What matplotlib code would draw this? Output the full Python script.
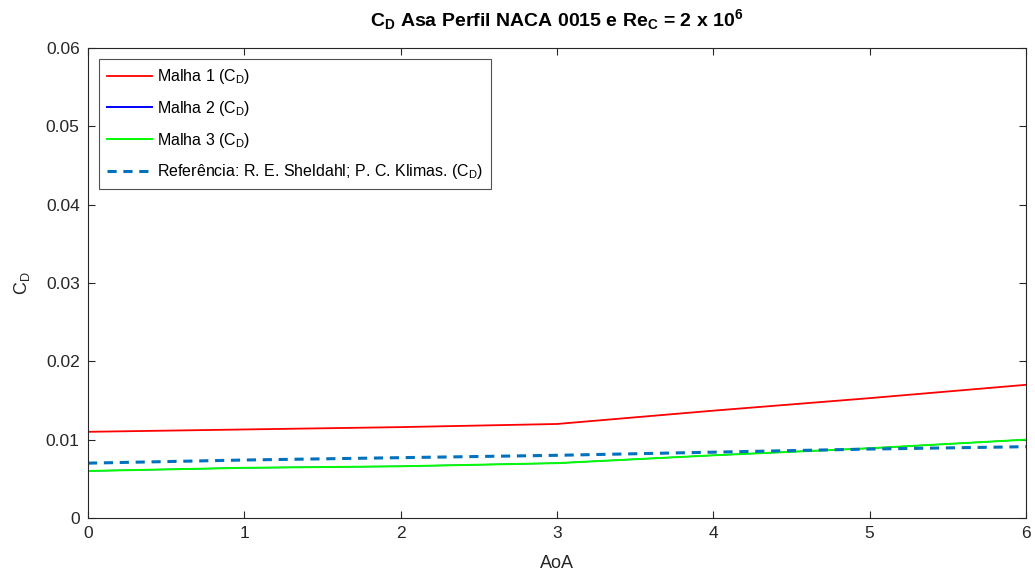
import numpy as np
import matplotlib.pyplot as plt

plt.rcParams['font.family'] = ['Liberation Sans', 'DejaVu Sans']
plt.rcParams['mathtext.default'] = 'regular'

aoa = [0, 1, 2, 3, 4, 5, 6]
cd_malha1 = [0.0110, 0.0113, 0.0116, 0.0120, 0.0137, 0.0153, 0.0170]
cd_malha2 = [0.0060, 0.0064, 0.0066, 0.0070, 0.0080, 0.0089, 0.0100]
cd_malha3 = [0.0060, 0.0064, 0.0066, 0.0070, 0.0080, 0.0089, 0.0100]
cd_ref = [0.0070, 0.0074, 0.0077, 0.0080, 0.0084, 0.0088, 0.0091]

fig = plt.figure(figsize=(10.35, 5.74), dpi=100)
ax = fig.add_axes([0.085, 0.0976, 0.9063, 0.8188])

ax.plot(aoa, cd_malha1, color=(1, 0, 0), lw=1.3, label='Malha 1 (C$_D$)')
# malha 2 sits under malha 3, keep it thinner so the green stays clean
ax.plot(aoa, cd_malha2, color=(0, 0, 1), lw=0.9, label='Malha 2 (C$_D$)')
ax.plot(aoa, cd_malha3, color=(0, 1, 0), lw=1.4, label='Malha 3 (C$_D$)')
ax.plot(aoa, cd_ref, color='#0072BD', lw=2.2, ls=(0, (3, 2.2)),
        label='Referência: R. E. Sheldahl; P. C. Klimas. (C$_D$)')

ax.set_xlim(0, 6)
ax.set_ylim(0, 0.06)
ax.set_xticks(range(7))
ax.set_yticks(np.arange(0, 0.061, 0.01))
ax.set_yticklabels(['0', '0.01', '0.02', '0.03', '0.04', '0.05', '0.06'])

gray = (0.15, 0.15, 0.15)
for s in ax.spines.values():
    s.set_color(gray)
    s.set_linewidth(0.8)
ax.tick_params(direction='in', top=True, right=True, length=5, width=0.8,
               colors=gray, labelsize=12.5, pad=6)

ax.set_xlabel('AoA', fontsize=13, color=gray, labelpad=10)
ax.set_ylabel('C$_D$', fontsize=13, color=gray, labelpad=10)
ax.set_title('C$_D$ Asa Perfil NACA 0015 e Re$_C$ = 2 x 10$^6$',
             fontsize=14, fontweight='bold', color='black', pad=16)

leg = ax.legend(loc='upper left', fontsize=11.5, frameon=True, fancybox=False,
                edgecolor=gray, handlelength=2.8, handletextpad=0.3,
                borderaxespad=0.7, labelspacing=0.8, borderpad=0.5)
leg.get_frame().set_linewidth(0.8)
leg.get_lines()[1].set_linewidth(1.4)

fig.savefig('out.png', dpi=100)
